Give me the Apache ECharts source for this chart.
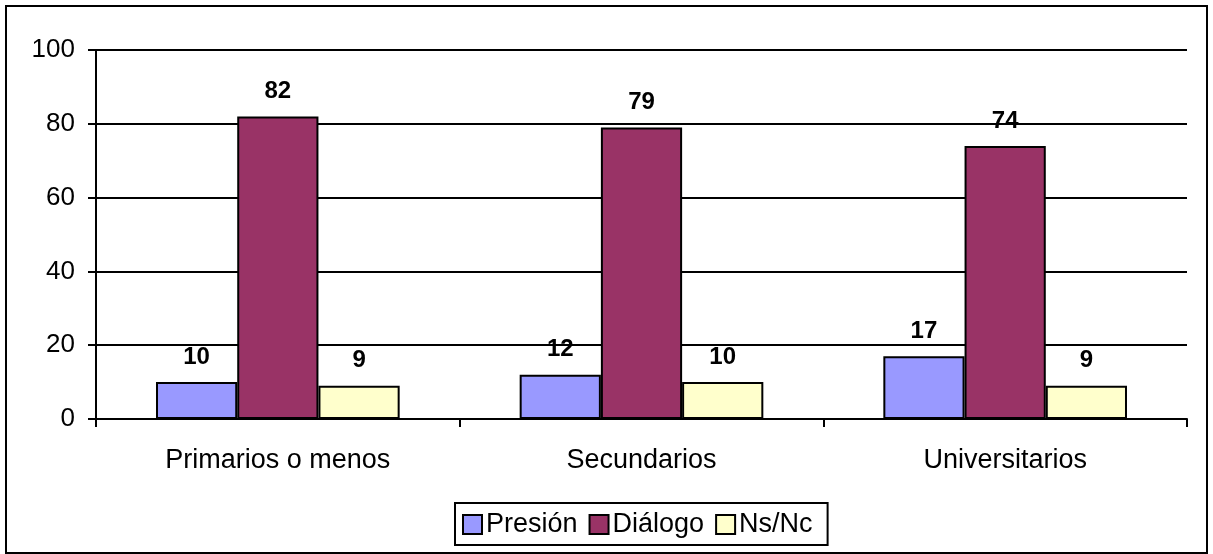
<!DOCTYPE html>
<html><head><meta charset="utf-8">
<script src="https://cdn.jsdelivr.net/npm/echarts@6/dist/echarts.min.js"></script>
<style>html,body{margin:0;padding:0;background:#fff}#c{width:1213px;height:554px}</style>
</head><body><div id="c"></div>
<script>
const categories = ['Primarios o menos', 'Secundarios', 'Universitarios'];
const presion = [10, 12, 17];
const dialogo = [82, 79, 74];
const nsnc = [9, 10, 9];
const yTicks = [0, 20, 40, 60, 80, 100];

const chart = echarts.init(document.getElementById('c'));
const font = 'Liberation Sans, Arial, sans-serif';
function ser(name, data, color) {
  return {
    name, type: 'bar', data, barGap: '0%', barCategoryGap: '33%',
    itemStyle: { color, borderColor: '#000', borderWidth: 2 },
    label: { show: true, position: 'top', distance: 13, fontFamily: font, fontSize: 24, fontWeight: 'bold', color: '#000' }
  };
}
chart.setOption({
  animation: false,
  textStyle: { fontFamily: font },
  graphic: [{ type: 'rect', shape: { x: 6, y: 6, width: 1201, height: 547 }, style: { fill: 'none', stroke: '#000', lineWidth: 2 }, silent: true }],
  grid: { left: 96, right: 26, top: 50, bottom: 135 },
  legend: {
    top: 503, left: 455, data: ['Presión', 'Diálogo', 'Ns/Nc'],
    icon: 'rect', itemWidth: 19, itemHeight: 19, itemGap: 11,
    borderColor: '#000', borderWidth: 2, padding: [8, 15, 7, 7],
    textStyle: { fontFamily: font, fontSize: 27, color: '#000', padding: [0, 0, 0, -1] },
    itemStyle: { borderColor: '#000', borderWidth: 2 }
  },
  xAxis: {
    type: 'category', data: categories,
    axisLine: { lineStyle: { color: '#000', width: 2 } },
    axisTick: { show: true, length: 8, lineStyle: { color: '#000', width: 2 } },
    axisLabel: { fontFamily: font, fontSize: 27, color: '#000', margin: 28 }
  },
  yAxis: {
    type: 'value', min: 0, max: 100, interval: 20,
    axisLine: { show: true, lineStyle: { color: '#000', width: 2 } },
    axisTick: { show: true, length: 8, lineStyle: { color: '#000', width: 2 } },
    axisLabel: { fontFamily: font, fontSize: 26, color: '#000', margin: 21,
      formatter: v => yTicks.includes(v) ? String(v) : '' },
    splitLine: { show: true, lineStyle: { color: '#000', width: 2 } }
  },
  series: [ser('Presión', presion, '#9999FF'), ser('Diálogo', dialogo, '#993366'), ser('Ns/Nc', nsnc, '#FFFFCC')]
});
</script></body></html>
